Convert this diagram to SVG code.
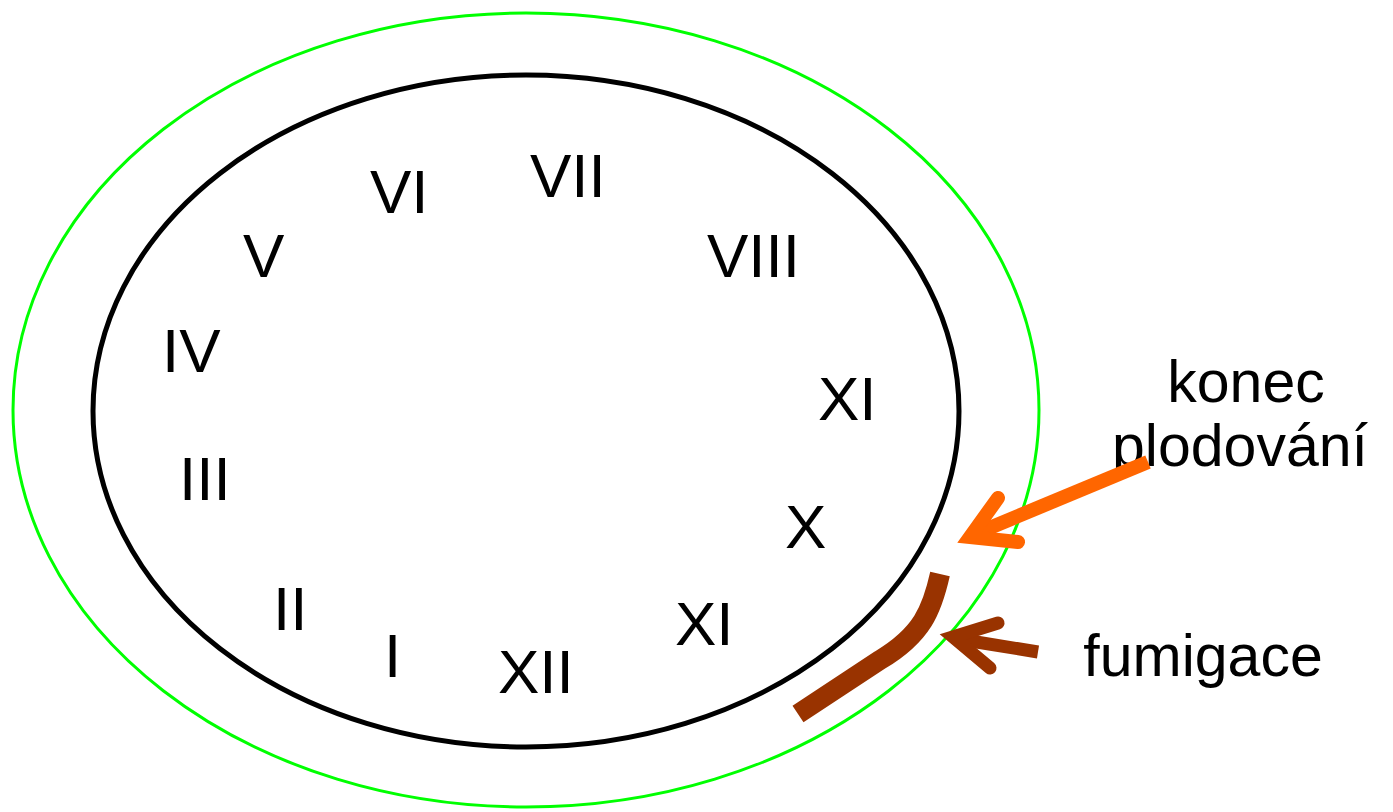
<svg xmlns="http://www.w3.org/2000/svg" width="1393" height="812" viewBox="0 0 1393 812">
<style>
.num{font-family:"Liberation Sans",Arial,sans-serif;font-size:62px;fill:#000}
.lbl{font-family:"Liberation Sans",Arial,sans-serif;font-size:59px;fill:#000;text-anchor:middle}
</style>
<rect width="1393" height="812" fill="#fff"/>
<g id="outer"><ellipse cx="526" cy="410" rx="513" ry="397" fill="none" stroke="#00ff00" stroke-width="3"/></g>
<g id="inner"><ellipse cx="526" cy="411" rx="433" ry="336" fill="none" stroke="#000" stroke-width="5"/></g>
<g id="numerals">
<text class="num" x="530" y="197">VII</text>
<text class="num" x="370" y="213">VI</text>
<text class="num" x="243" y="277">V</text>
<text class="num" x="707" y="277">VIII</text>
<text class="num" x="162" y="372">IV</text>
<text class="num" x="818" y="420">XI</text>
<text class="num" x="179" y="500">III</text>
<text class="num" x="785" y="548">X</text>
<text class="num" x="273" y="630">II</text>
<text class="num" x="675" y="645">XI</text>
<text class="num" x="384" y="677">I</text>
<text class="num" x="498" y="693">XII</text>
</g>
<g id="fumigation-band"><path d="M940 574 C932 610 922 635 880 660 L798 714" fill="none" stroke="#993300" stroke-width="20"/></g>
<g id="label-konec"><text class="lbl" x="1246" y="402">konec</text><text class="lbl" x="1240" y="466">plodování</text></g>
<g id="label-fumigace"><text class="lbl" x="1203" y="676">fumigace</text></g>
<g id="connectors">
<g fill="none" stroke="#ff6600" stroke-width="14">
<path d="M1148 462 L975 534"/>
<path d="M998 498 L970 537 L1018 542" stroke-linecap="round" stroke-linejoin="miter"/>
</g>
<g fill="none" stroke="#993300" stroke-width="13">
<path d="M1038 652 L958 639"/>
<path d="M998 623 L953 637 L990 668" stroke-linecap="round" stroke-linejoin="miter"/>
</g>
</g>
</svg>
